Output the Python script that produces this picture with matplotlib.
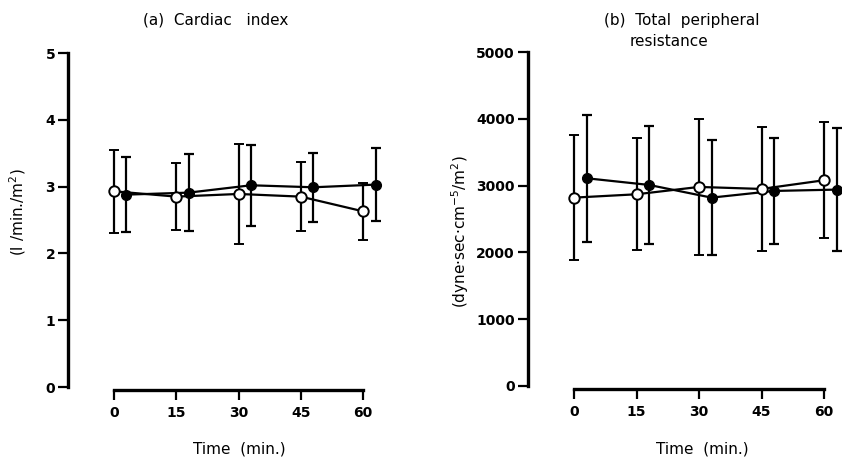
import matplotlib
matplotlib.use("Agg")
import matplotlib.pyplot as plt
from matplotlib.font_manager import FontProperties
import numpy as np

# ---- data ----
times = [0, 15, 30, 45, 60]
offset_filled = 3  # filled symbols drawn slightly right of each time point

ci_open_mean = [2.93, 2.85, 2.89, 2.85, 2.63]
ci_open_sd = [0.62, 0.50, 0.75, 0.52, 0.43]
ci_filled_mean = [2.88, 2.91, 3.02, 2.99, 3.03]
ci_filled_sd = [0.56, 0.58, 0.61, 0.52, 0.55]

tpr_open_mean = [2820, 2870, 2980, 2950, 3080]
tpr_open_sd = [940, 840, 1020, 930, 870]
tpr_filled_mean = [3110, 3010, 2820, 2920, 2940]
tpr_filled_sd = [950, 885, 865, 795, 920]

ci_yticks = [0, 1, 2, 3, 4, 5]
tpr_yticks = [0, 1000, 2000, 3000, 4000, 5000]

fig = plt.figure(figsize=(8.42, 4.61), dpi=100)

tickprop = FontProperties(family="DejaVu Sans", weight="bold", size=10)
textfont = dict(family="DejaVu Sans", size=11)


def panel(ax, om, osd, fm, fsd, yticks, ymax):
    t = np.array(times, dtype=float)
    ax.errorbar(t + offset_filled, fm, yerr=fsd, fmt='-o', color='black', lw=1.6,
                ms=7, mfc='black', mec='black', capsize=3.5, capthick=1.6,
                elinewidth=1.6, clip_on=False, zorder=3)
    ax.errorbar(t, om, yerr=osd, fmt='-o', color='black', lw=1.6,
                ms=7.5, mfc='white', mec='black', mew=1.4, capsize=3.5,
                capthick=1.6, elinewidth=1.6, clip_on=False, zorder=4)
    ax.set_ylim(0, ymax)
    ax.spines['top'].set_visible(False)
    ax.spines['right'].set_visible(False)
    ax.spines['left'].set_linewidth(2.4)
    ax.spines['bottom'].set_linewidth(2.4)
    ax.spines['bottom'].set_bounds(0, 60)
    ax.spines['bottom'].set_position(('outward', 2))
    ax.spines['left'].set_bounds(0, ymax)
    ax.set_xticks(times)
    ax.set_yticks(yticks)
    ax.tick_params(axis='both', direction='out', length=7.5, width=1.6, pad=2)
    ax.tick_params(axis='x', pad=4)
    for lab in ax.get_xticklabels() + ax.get_yticklabels():
        lab.set_fontproperties(tickprop)


ax1 = fig.add_axes([0.0812, 0.1605, 0.3796, 0.7245])
ax1.set_xlim(-11, 66)
panel(ax1, ci_open_mean, ci_open_sd, ci_filled_mean, ci_filled_sd, ci_yticks, 5)

ax2 = fig.add_axes([0.6273, 0.1627, 0.3736, 0.7245])
ax2.set_xlim(-11, 64.5)
panel(ax2, tpr_open_mean, tpr_open_sd, tpr_filled_mean, tpr_filled_sd, tpr_yticks, 5000)

W, H = 842, 461


def ftext(x, y, s, **kw):
    fig.text(x / W, 1 - y / H, s, ha='center', va='center', **textfont, **kw)


ftext(216, 20, "(a)  Cardiac   index")
ftext(682, 20, "(b)  Total  peripheral")
ftext(669, 42, "resistance")
ftext(239, 449, "Time  (min.)")
ftext(702, 449, "Time  (min.)")
ftext(18, 212, "(l /min./m$^2$)", rotation=90)
ftext(460, 232, "(dyne·sec·cm$^{-5}$/m$^2$)", rotation=90)

fig.savefig("out.png", dpi=100)
